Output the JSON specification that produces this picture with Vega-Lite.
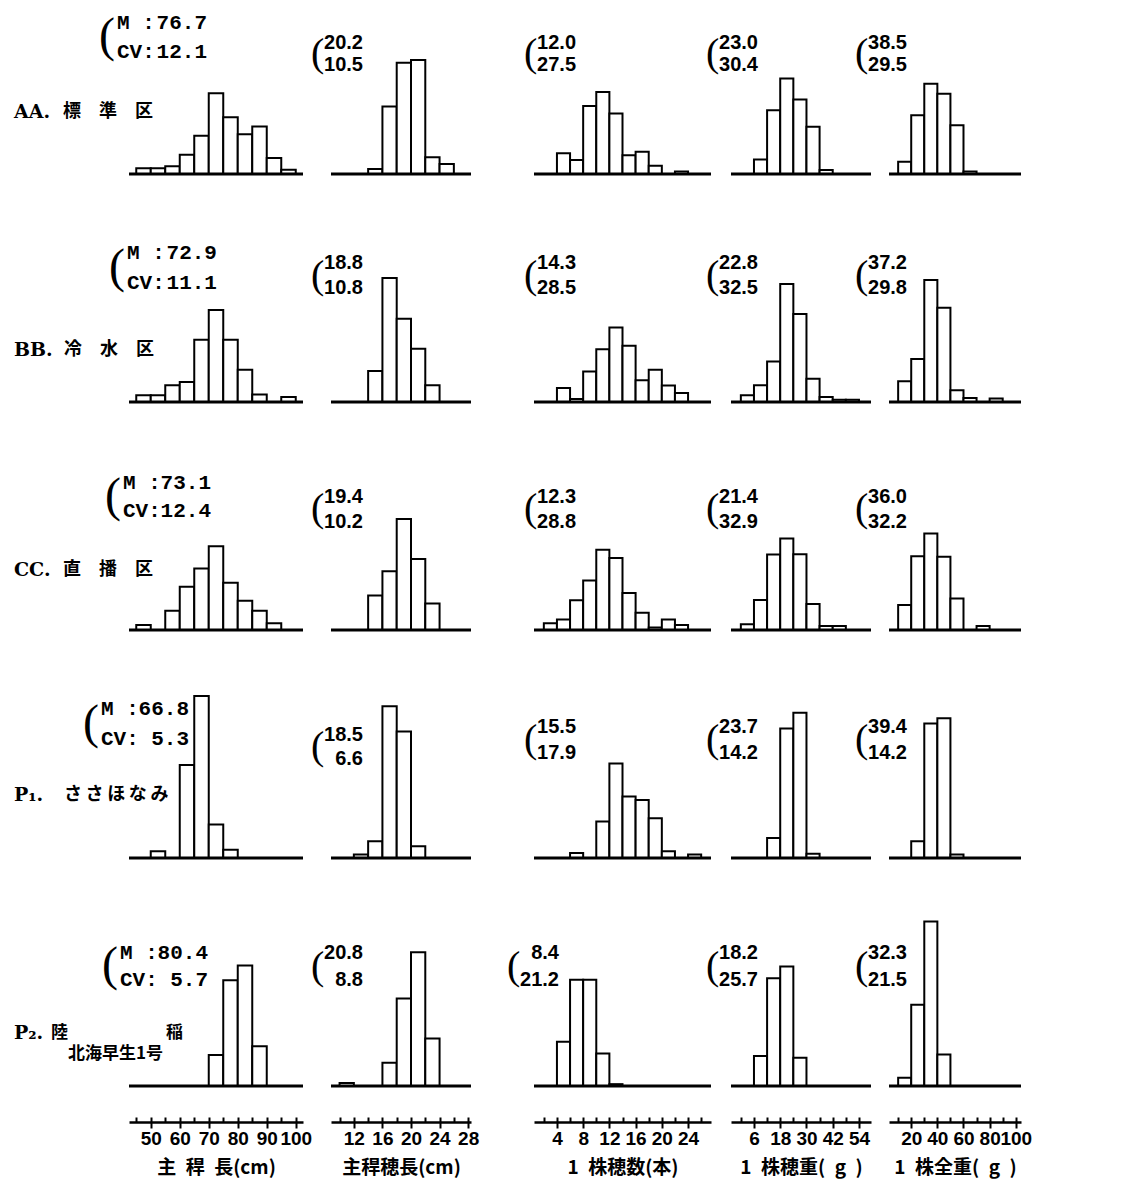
{
"$schema": "https://vega.github.io/schema/vega-lite/v6.json",
"background": "white",
"padding": {"left": 13, "top": 4, "right": 10, "bottom": 5},
"columns": 5,
"spacing": {"row": 58, "column": 0},
"align": "each",
"bounds": "flush",
"config": {
  "view": {"stroke": null, "fill": "white"},
  "text": {"color": "black"},
  "rule": {"color": "black", "strokeWidth": 3},
  "axis": {"grid": false, "domainColor": "black", "tickColor": "black", "labelColor": "black", "titleColor": "black", "labelFont": "Liberation Sans", "labelFontSize": 19, "labelFontWeight": "bold", "titleFont": "Noto Sans CJK JP", "titleFontSize": 19, "titleFontWeight": "bold", "tickWidth": 2, "domainWidth": 2.5, "labelFlush": false, "labelOverlap": false, "labelBound": false, "labelPadding": 1, "titlePadding": 10},
  "style": {
    "paren1": {"font": "Liberation Serif", "fontSize": 48, "align": "left", "baseline": "middle"},
    "paren": {"font": "Liberation Serif", "fontSize": 40, "align": "left", "baseline": "middle"},
    "mono": {"font": "Liberation Mono", "fontSize": 21, "fontWeight": "bold", "baseline": "middle"},
    "num": {"font": "Liberation Sans", "fontSize": 20, "fontWeight": "bold", "align": "right", "baseline": "middle"},
    "lat": {"font": "DejaVu Serif", "fontSize": 19, "fontWeight": "bold", "align": "left", "baseline": "middle"},
    "cjk": {"font": "Noto Sans CJK JP", "fontSize": 18, "fontWeight": "bold", "align": "left", "baseline": "middle"}
  }
},
"datasets": {
  "stats": [
    {"g":"AA","v":"c1","m":76.7,"cv":12.1},{"g":"AA","v":"c2","m":20.2,"cv":10.5},{"g":"AA","v":"c3","m":12.0,"cv":27.5},{"g":"AA","v":"c4","m":23.0,"cv":30.4},{"g":"AA","v":"c5","m":38.5,"cv":29.5},
    {"g":"BB","v":"c1","m":72.9,"cv":11.1},{"g":"BB","v":"c2","m":18.8,"cv":10.8},{"g":"BB","v":"c3","m":14.3,"cv":28.5},{"g":"BB","v":"c4","m":22.8,"cv":32.5},{"g":"BB","v":"c5","m":37.2,"cv":29.8},
    {"g":"CC","v":"c1","m":73.1,"cv":12.4},{"g":"CC","v":"c2","m":19.4,"cv":10.2},{"g":"CC","v":"c3","m":12.3,"cv":28.8},{"g":"CC","v":"c4","m":21.4,"cv":32.9},{"g":"CC","v":"c5","m":36.0,"cv":32.2},
    {"g":"P1","v":"c1","m":66.8,"cv":5.3},{"g":"P1","v":"c2","m":18.5,"cv":6.6},{"g":"P1","v":"c3","m":15.5,"cv":17.9},{"g":"P1","v":"c4","m":23.7,"cv":14.2},{"g":"P1","v":"c5","m":39.4,"cv":14.2},
    {"g":"P2","v":"c1","m":80.4,"cv":5.7},{"g":"P2","v":"c2","m":20.8,"cv":8.8},{"g":"P2","v":"c3","m":8.4,"cv":21.2},{"g":"P2","v":"c4","m":18.2,"cv":25.7},{"g":"P2","v":"c5","m":32.3,"cv":21.5}
  ],
  "bars": [
    {"g":"AA","v":"c1","x0":45,"x1":50,"f":1.9},{"g":"AA","v":"c1","x0":50,"x1":55,"f":1.9},{"g":"AA","v":"c1","x0":55,"x1":60,"f":2.5},{"g":"AA","v":"c1","x0":60,"x1":65,"f":6.2},{"g":"AA","v":"c1","x0":65,"x1":70,"f":12.4},{"g":"AA","v":"c1","x0":70,"x1":75,"f":26.1},{"g":"AA","v":"c1","x0":75,"x1":80,"f":18.4},{"g":"AA","v":"c1","x0":80,"x1":85,"f":12.9},{"g":"AA","v":"c1","x0":85,"x1":90,"f":15.4},{"g":"AA","v":"c1","x0":90,"x1":95,"f":5.2},{"g":"AA","v":"c1","x0":95,"x1":100,"f":1.4},
    {"g":"AA","v":"c2","x0":14,"x1":16,"f":1.6},{"g":"AA","v":"c2","x0":16,"x1":18,"f":21.8},{"g":"AA","v":"c2","x0":18,"x1":20,"f":36.0},{"g":"AA","v":"c2","x0":20,"x1":22,"f":36.9},{"g":"AA","v":"c2","x0":22,"x1":24,"f":5.4},{"g":"AA","v":"c2","x0":24,"x1":26,"f":3.2},
    {"g":"AA","v":"c3","x0":4,"x1":6,"f":6.7},{"g":"AA","v":"c3","x0":6,"x1":8,"f":4.5},{"g":"AA","v":"c3","x0":8,"x1":10,"f":22.0},{"g":"AA","v":"c3","x0":10,"x1":12,"f":26.5},{"g":"AA","v":"c3","x0":12,"x1":14,"f":19.6},{"g":"AA","v":"c3","x0":14,"x1":16,"f":6.1},{"g":"AA","v":"c3","x0":16,"x1":18,"f":7.2},{"g":"AA","v":"c3","x0":18,"x1":20,"f":2.7},{"g":"AA","v":"c3","x0":22,"x1":24,"f":0.8},
    {"g":"AA","v":"c4","x0":6,"x1":12,"f":4.7},{"g":"AA","v":"c4","x0":12,"x1":18,"f":20.6},{"g":"AA","v":"c4","x0":18,"x1":24,"f":30.9},{"g":"AA","v":"c4","x0":24,"x1":30,"f":24.1},{"g":"AA","v":"c4","x0":30,"x1":36,"f":15.3},{"g":"AA","v":"c4","x0":36,"x1":42,"f":1.3},
    {"g":"AA","v":"c5","x0":10,"x1":20,"f":4.0},{"g":"AA","v":"c5","x0":20,"x1":30,"f":19.0},{"g":"AA","v":"c5","x0":30,"x1":40,"f":29.2},{"g":"AA","v":"c5","x0":40,"x1":50,"f":26.0},{"g":"AA","v":"c5","x0":50,"x1":60,"f":15.8},{"g":"AA","v":"c5","x0":60,"x1":70,"f":0.8},
    {"g":"BB","v":"c1","x0":45,"x1":50,"f":2.2},{"g":"BB","v":"c1","x0":50,"x1":55,"f":2.2},{"g":"BB","v":"c1","x0":55,"x1":60,"f":5.4},{"g":"BB","v":"c1","x0":60,"x1":65,"f":6.5},{"g":"BB","v":"c1","x0":65,"x1":70,"f":20.1},{"g":"BB","v":"c1","x0":70,"x1":75,"f":29.8},{"g":"BB","v":"c1","x0":75,"x1":80,"f":20.1},{"g":"BB","v":"c1","x0":80,"x1":85,"f":10.4},{"g":"BB","v":"c1","x0":85,"x1":90,"f":2.4},{"g":"BB","v":"c1","x0":95,"x1":100,"f":1.6},
    {"g":"BB","v":"c2","x0":14,"x1":16,"f":10.0},{"g":"BB","v":"c2","x0":16,"x1":18,"f":40.1},{"g":"BB","v":"c2","x0":18,"x1":20,"f":26.9},{"g":"BB","v":"c2","x0":20,"x1":22,"f":17.2},{"g":"BB","v":"c2","x0":22,"x1":24,"f":5.4},
    {"g":"BB","v":"c3","x0":4,"x1":6,"f":4.5},{"g":"BB","v":"c3","x0":6,"x1":8,"f":1.0},{"g":"BB","v":"c3","x0":8,"x1":10,"f":9.9},{"g":"BB","v":"c3","x0":10,"x1":12,"f":17.1},{"g":"BB","v":"c3","x0":12,"x1":14,"f":24.1},{"g":"BB","v":"c3","x0":14,"x1":16,"f":18.2},{"g":"BB","v":"c3","x0":16,"x1":18,"f":7.0},{"g":"BB","v":"c3","x0":18,"x1":20,"f":10.4},{"g":"BB","v":"c3","x0":20,"x1":22,"f":5.3},{"g":"BB","v":"c3","x0":22,"x1":24,"f":2.9},
    {"g":"BB","v":"c4","x0":0,"x1":6,"f":2.2},{"g":"BB","v":"c4","x0":6,"x1":12,"f":5.4},{"g":"BB","v":"c4","x0":12,"x1":18,"f":13.1},{"g":"BB","v":"c4","x0":18,"x1":24,"f":38.2},{"g":"BB","v":"c4","x0":24,"x1":30,"f":28.5},{"g":"BB","v":"c4","x0":30,"x1":36,"f":7.5},{"g":"BB","v":"c4","x0":36,"x1":42,"f":1.6},{"g":"BB","v":"c4","x0":42,"x1":48,"f":0.7},{"g":"BB","v":"c4","x0":48,"x1":54,"f":0.7},
    {"g":"BB","v":"c5","x0":10,"x1":20,"f":6.7},{"g":"BB","v":"c5","x0":20,"x1":30,"f":13.9},{"g":"BB","v":"c5","x0":30,"x1":40,"f":39.5},{"g":"BB","v":"c5","x0":40,"x1":50,"f":30.5},{"g":"BB","v":"c5","x0":50,"x1":60,"f":3.8},{"g":"BB","v":"c5","x0":60,"x1":70,"f":1.3},{"g":"BB","v":"c5","x0":80,"x1":90,"f":1.1},
    {"g":"CC","v":"c1","x0":45,"x1":50,"f":1.6},{"g":"CC","v":"c1","x0":55,"x1":60,"f":6.2},{"g":"CC","v":"c1","x0":60,"x1":65,"f":14.0},{"g":"CC","v":"c1","x0":65,"x1":70,"f":19.9},{"g":"CC","v":"c1","x0":70,"x1":75,"f":27.1},{"g":"CC","v":"c1","x0":75,"x1":80,"f":15.3},{"g":"CC","v":"c1","x0":80,"x1":85,"f":9.5},{"g":"CC","v":"c1","x0":85,"x1":90,"f":6.2},{"g":"CC","v":"c1","x0":90,"x1":95,"f":2.2},
    {"g":"CC","v":"c2","x0":14,"x1":16,"f":11.2},{"g":"CC","v":"c2","x0":16,"x1":18,"f":19.0},{"g":"CC","v":"c2","x0":18,"x1":20,"f":35.9},{"g":"CC","v":"c2","x0":20,"x1":22,"f":23.0},{"g":"CC","v":"c2","x0":22,"x1":24,"f":8.6},
    {"g":"CC","v":"c3","x0":2,"x1":4,"f":2.2},{"g":"CC","v":"c3","x0":4,"x1":6,"f":3.4},{"g":"CC","v":"c3","x0":6,"x1":8,"f":9.6},{"g":"CC","v":"c3","x0":8,"x1":10,"f":16.0},{"g":"CC","v":"c3","x0":10,"x1":12,"f":26.0},{"g":"CC","v":"c3","x0":12,"x1":14,"f":23.3},{"g":"CC","v":"c3","x0":14,"x1":16,"f":12.0},{"g":"CC","v":"c3","x0":16,"x1":18,"f":5.6},{"g":"CC","v":"c3","x0":18,"x1":20,"f":0.8},{"g":"CC","v":"c3","x0":20,"x1":22,"f":3.4},{"g":"CC","v":"c3","x0":22,"x1":24,"f":1.6},
    {"g":"CC","v":"c4","x0":0,"x1":6,"f":1.9},{"g":"CC","v":"c4","x0":6,"x1":12,"f":9.7},{"g":"CC","v":"c4","x0":12,"x1":18,"f":24.4},{"g":"CC","v":"c4","x0":18,"x1":24,"f":29.6},{"g":"CC","v":"c4","x0":24,"x1":30,"f":24.5},{"g":"CC","v":"c4","x0":30,"x1":36,"f":8.4},{"g":"CC","v":"c4","x0":36,"x1":42,"f":1.3},{"g":"CC","v":"c4","x0":42,"x1":48,"f":1.3},
    {"g":"CC","v":"c5","x0":10,"x1":20,"f":8.1},{"g":"CC","v":"c5","x0":20,"x1":30,"f":23.9},{"g":"CC","v":"c5","x0":30,"x1":40,"f":31.2},{"g":"CC","v":"c5","x0":40,"x1":50,"f":23.7},{"g":"CC","v":"c5","x0":50,"x1":60,"f":10.2},{"g":"CC","v":"c5","x0":70,"x1":80,"f":1.3},
    {"g":"P1","v":"c1","x0":50,"x1":55,"f":2.2},{"g":"P1","v":"c1","x0":60,"x1":65,"f":30.1},{"g":"P1","v":"c1","x0":65,"x1":70,"f":52.4},{"g":"P1","v":"c1","x0":70,"x1":75,"f":10.8},{"g":"P1","v":"c1","x0":75,"x1":80,"f":2.7},
    {"g":"P1","v":"c2","x0":12,"x1":14,"f":1.1},{"g":"P1","v":"c2","x0":14,"x1":16,"f":5.4},{"g":"P1","v":"c2","x0":16,"x1":18,"f":49.1},{"g":"P1","v":"c2","x0":18,"x1":20,"f":40.9},{"g":"P1","v":"c2","x0":20,"x1":22,"f":3.8},
    {"g":"P1","v":"c3","x0":6,"x1":8,"f":1.6},{"g":"P1","v":"c3","x0":10,"x1":12,"f":11.8},{"g":"P1","v":"c3","x0":12,"x1":14,"f":30.6},{"g":"P1","v":"c3","x0":14,"x1":16,"f":19.9},{"g":"P1","v":"c3","x0":16,"x1":18,"f":18.8},{"g":"P1","v":"c3","x0":18,"x1":20,"f":12.9},{"g":"P1","v":"c3","x0":20,"x1":22,"f":2.2},{"g":"P1","v":"c3","x0":24,"x1":26,"f":1.1},
    {"g":"P1","v":"c4","x0":12,"x1":18,"f":6.5},{"g":"P1","v":"c4","x0":18,"x1":24,"f":41.9},{"g":"P1","v":"c4","x0":24,"x1":30,"f":47.0},{"g":"P1","v":"c4","x0":30,"x1":36,"f":1.4},
    {"g":"P1","v":"c5","x0":20,"x1":30,"f":5.4},{"g":"P1","v":"c5","x0":30,"x1":40,"f":43.5},{"g":"P1","v":"c5","x0":40,"x1":50,"f":45.2},{"g":"P1","v":"c5","x0":50,"x1":60,"f":1.1},
    {"g":"P2","v":"c1","x0":70,"x1":75,"f":10.0},{"g":"P2","v":"c1","x0":75,"x1":80,"f":34.2},{"g":"P2","v":"c1","x0":80,"x1":85,"f":39.0},{"g":"P2","v":"c1","x0":85,"x1":90,"f":12.9},
    {"g":"P2","v":"c2","x0":10,"x1":12,"f":1.0},{"g":"P2","v":"c2","x0":16,"x1":18,"f":7.5},{"g":"P2","v":"c2","x0":18,"x1":20,"f":28.3},{"g":"P2","v":"c2","x0":20,"x1":22,"f":43.3},{"g":"P2","v":"c2","x0":22,"x1":24,"f":15.4},
    {"g":"P2","v":"c3","x0":4,"x1":6,"f":14.3},{"g":"P2","v":"c3","x0":6,"x1":8,"f":34.4},{"g":"P2","v":"c3","x0":8,"x1":10,"f":34.4},{"g":"P2","v":"c3","x0":10,"x1":12,"f":10.5},{"g":"P2","v":"c3","x0":12,"x1":14,"f":0.6},
    {"g":"P2","v":"c4","x0":6,"x1":12,"f":9.7},{"g":"P2","v":"c4","x0":12,"x1":18,"f":34.9},{"g":"P2","v":"c4","x0":18,"x1":24,"f":38.7},{"g":"P2","v":"c4","x0":24,"x1":30,"f":9.1},
    {"g":"P2","v":"c5","x0":10,"x1":20,"f":2.7},{"g":"P2","v":"c5","x0":20,"x1":30,"f":26.3},{"g":"P2","v":"c5","x0":30,"x1":40,"f":53.2},{"g":"P2","v":"c5","x0":40,"x1":50,"f":10.2}
  ]
},
"concat": [
{"width":202,"height":170,"data":{"name":"stats"},"transform":[{"filter":"datum.g==='AA'&&datum.v==='c1'"}],"layer":[
 {"data":{"name":"bars"},"transform":[{"filter":"datum.g==='AA'&&datum.v==='c1'"}],"mark":{"type":"rect","fill":"white","stroke":"black","strokeWidth":2},"encoding":{"x":{"field":"x0","type":"quantitative","scale":{"domain":[42.5,102.5],"range":[0,174],"nice":false,"zero":false},"axis":null},"x2":{"field":"x1"},"y":{"field":"f","type":"quantitative","scale":{"domain":[0,55],"nice":false},"axis":null},"y2":{"datum":0}}},
 {"mark":{"type":"rule"},"encoding":{"x":{"datum":42.5,"axis":null},"x2":{"datum":102.5},"y":{"datum":0,"axis":null}}},
 {"mark":{"type":"text","style":"paren1","text":"("},"encoding":{"x":{"datum":32.15,"axis":null},"y":{"datum":44.2,"axis":null}}},
 {"mark":{"type":"text","style":"mono","align":"left","text":"M :"},"encoding":{"x":{"datum":38.36,"axis":null},"y":{"datum":48.9,"axis":null}}},
 {"mark":{"type":"text","style":"mono","align":"left","text":"CV:"},"encoding":{"x":{"datum":38.36,"axis":null},"y":{"datum":39.5,"axis":null}}},
 {"mark":{"type":"text","style":"mono","align":"right"},"encoding":{"x":{"datum":69.4,"axis":null},"y":{"datum":48.9,"axis":null},"text":{"field":"m","type":"quantitative","format":".1f"}}},
 {"mark":{"type":"text","style":"mono","align":"right"},"encoding":{"x":{"datum":69.4,"axis":null},"y":{"datum":39.5,"axis":null},"text":{"field":"cv","type":"quantitative","format":".1f"}}},
 {"mark":{"type":"text","style":"lat","text":"AA."},"encoding":{"x":{"datum":2.84,"axis":null},"y":{"datum":20.1,"axis":null}}},
 {"mark":{"type":"text","style":"cjk","text":"標　準　区"},"encoding":{"x":{"datum":19.74,"axis":null},"y":{"datum":20.1,"axis":null}}}
]},
{"width":203,"height":170,"data":{"name":"stats"},"transform":[{"filter":"datum.g==='AA'&&datum.v==='c2'"}],"layer":[
 {"data":{"name":"bars"},"transform":[{"filter":"datum.g==='AA'&&datum.v==='c2'"}],"mark":{"type":"rect","fill":"white","stroke":"black","strokeWidth":2},"encoding":{"x":{"field":"x0","type":"quantitative","scale":{"domain":[8.8,28.4],"range":[0,140],"nice":false,"zero":false},"axis":null},"x2":{"field":"x1"},"y":{"field":"f","type":"quantitative","scale":{"domain":[0,55],"nice":false},"axis":null},"y2":{"datum":0}}},
 {"mark":{"type":"rule"},"encoding":{"x":{"datum":8.8,"axis":null},"x2":{"datum":28.4},"y":{"datum":0,"axis":null}}},
 {"mark":{"type":"text","style":"paren","text":"("},"encoding":{"x":{"datum":6.0,"axis":null},"y":{"datum":38.8,"axis":null}}},
 {"mark":{"type":"text","style":"num"},"encoding":{"x":{"datum":13.28,"axis":null},"y":{"datum":42.35,"axis":null},"text":{"field":"m","type":"quantitative","format":".1f"}}},
 {"mark":{"type":"text","style":"num"},"encoding":{"x":{"datum":13.28,"axis":null},"y":{"datum":35.25,"axis":null},"text":{"field":"cv","type":"quantitative","format":".1f"}}}
]},
{"width":197,"height":170,"data":{"name":"stats"},"transform":[{"filter":"datum.g==='AA'&&datum.v==='c3'"}],"layer":[
 {"data":{"name":"bars"},"transform":[{"filter":"datum.g==='AA'&&datum.v==='c3'"}],"mark":{"type":"rect","fill":"white","stroke":"black","strokeWidth":2},"encoding":{"x":{"field":"x0","type":"quantitative","scale":{"domain":[0.5,27.5],"range":[0,177],"nice":false,"zero":false},"axis":null},"x2":{"field":"x1"},"y":{"field":"f","type":"quantitative","scale":{"domain":[0,55],"nice":false},"axis":null},"y2":{"datum":0}}},
 {"mark":{"type":"rule"},"encoding":{"x":{"datum":0.5,"axis":null},"x2":{"datum":27.5},"y":{"datum":0,"axis":null}}},
 {"mark":{"type":"text","style":"paren","text":"("},"encoding":{"x":{"datum":-1.03,"axis":null},"y":{"datum":38.8,"axis":null}}},
 {"mark":{"type":"text","style":"num"},"encoding":{"x":{"datum":6.91,"axis":null},"y":{"datum":42.35,"axis":null},"text":{"field":"m","type":"quantitative","format":".1f"}}},
 {"mark":{"type":"text","style":"num"},"encoding":{"x":{"datum":6.91,"axis":null},"y":{"datum":35.25,"axis":null},"text":{"field":"cv","type":"quantitative","format":".1f"}}}
]},
{"width":158,"height":170,"data":{"name":"stats"},"transform":[{"filter":"datum.g==='AA'&&datum.v==='c4'"}],"layer":[
 {"data":{"name":"bars"},"transform":[{"filter":"datum.g==='AA'&&datum.v==='c4'"}],"mark":{"type":"rect","fill":"white","stroke":"black","strokeWidth":2},"encoding":{"x":{"field":"x0","type":"quantitative","scale":{"domain":[-4.5,59.5],"range":[0,140],"nice":false,"zero":false},"axis":null},"x2":{"field":"x1"},"y":{"field":"f","type":"quantitative","scale":{"domain":[0,55],"nice":false},"axis":null},"y2":{"datum":0}}},
 {"mark":{"type":"rule"},"encoding":{"x":{"datum":-4.5,"axis":null},"x2":{"datum":59.5},"y":{"datum":0,"axis":null}}},
 {"mark":{"type":"text","style":"paren","text":"("},"encoding":{"x":{"datum":-15.93,"axis":null},"y":{"datum":38.8,"axis":null}}},
 {"mark":{"type":"text","style":"num"},"encoding":{"x":{"datum":7.84,"axis":null},"y":{"datum":42.35,"axis":null},"text":{"field":"m","type":"quantitative","format":".1f"}}},
 {"mark":{"type":"text","style":"num"},"encoding":{"x":{"datum":7.84,"axis":null},"y":{"datum":35.25,"axis":null},"text":{"field":"cv","type":"quantitative","format":".1f"}}}
]},
{"width":140,"height":170,"data":{"name":"stats"},"transform":[{"filter":"datum.g==='AA'&&datum.v==='c5'"}],"layer":[
 {"data":{"name":"bars"},"transform":[{"filter":"datum.g==='AA'&&datum.v==='c5'"}],"mark":{"type":"rect","fill":"white","stroke":"black","strokeWidth":2},"encoding":{"x":{"field":"x0","type":"quantitative","scale":{"domain":[3,104],"range":[0,132],"nice":false,"zero":false},"axis":null},"x2":{"field":"x1"},"y":{"field":"f","type":"quantitative","scale":{"domain":[0,55],"nice":false},"axis":null},"y2":{"datum":0}}},
 {"mark":{"type":"rule"},"encoding":{"x":{"datum":3,"axis":null},"x2":{"datum":104},"y":{"datum":0,"axis":null}}},
 {"mark":{"type":"text","style":"paren","text":"("},"encoding":{"x":{"datum":-23.02,"axis":null},"y":{"datum":38.8,"axis":null}}},
 {"mark":{"type":"text","style":"num"},"encoding":{"x":{"datum":16.77,"axis":null},"y":{"datum":42.35,"axis":null},"text":{"field":"m","type":"quantitative","format":".1f"}}},
 {"mark":{"type":"text","style":"num"},"encoding":{"x":{"datum":16.77,"axis":null},"y":{"datum":35.25,"axis":null},"text":{"field":"cv","type":"quantitative","format":".1f"}}}
]},

{"width":202,"height":170,"data":{"name":"stats"},"transform":[{"filter":"datum.g==='BB'&&datum.v==='c1'"}],"layer":[
 {"data":{"name":"bars"},"transform":[{"filter":"datum.g==='BB'&&datum.v==='c1'"}],"mark":{"type":"rect","fill":"white","stroke":"black","strokeWidth":2},"encoding":{"x":{"field":"x0","type":"quantitative","scale":{"domain":[42.5,102.5],"range":[0,174],"nice":false,"zero":false},"axis":null},"x2":{"field":"x1"},"y":{"field":"f","type":"quantitative","scale":{"domain":[0,55],"nice":false},"axis":null},"y2":{"datum":0}}},
 {"mark":{"type":"rule"},"encoding":{"x":{"datum":42.5,"axis":null},"x2":{"datum":102.5},"y":{"datum":0,"axis":null}}},
 {"mark":{"type":"text","style":"paren1","text":"("},"encoding":{"x":{"datum":35.6,"axis":null},"y":{"datum":43.4,"axis":null}}},
 {"mark":{"type":"text","style":"mono","align":"left","text":"M :"},"encoding":{"x":{"datum":41.81,"axis":null},"y":{"datum":48.2,"axis":null}}},
 {"mark":{"type":"text","style":"mono","align":"left","text":"CV:"},"encoding":{"x":{"datum":41.81,"axis":null},"y":{"datum":38.5,"axis":null}}},
 {"mark":{"type":"text","style":"mono","align":"right"},"encoding":{"x":{"datum":72.84,"axis":null},"y":{"datum":48.2,"axis":null},"text":{"field":"m","type":"quantitative","format":".1f"}}},
 {"mark":{"type":"text","style":"mono","align":"right"},"encoding":{"x":{"datum":72.84,"axis":null},"y":{"datum":38.5,"axis":null},"text":{"field":"cv","type":"quantitative","format":".1f"}}},
 {"mark":{"type":"text","style":"lat","text":"BB."},"encoding":{"x":{"datum":2.84,"axis":null},"y":{"datum":16.8,"axis":null}}},
 {"mark":{"type":"text","style":"cjk","text":"冷　水　区"},"encoding":{"x":{"datum":20.09,"axis":null},"y":{"datum":16.8,"axis":null}}}
]},
{"width":203,"height":170,"data":{"name":"stats"},"transform":[{"filter":"datum.g==='BB'&&datum.v==='c2'"}],"layer":[
 {"data":{"name":"bars"},"transform":[{"filter":"datum.g==='BB'&&datum.v==='c2'"}],"mark":{"type":"rect","fill":"white","stroke":"black","strokeWidth":2},"encoding":{"x":{"field":"x0","type":"quantitative","scale":{"domain":[8.8,28.4],"range":[0,140],"nice":false,"zero":false},"axis":null},"x2":{"field":"x1"},"y":{"field":"f","type":"quantitative","scale":{"domain":[0,55],"nice":false},"axis":null},"y2":{"datum":0}}},
 {"mark":{"type":"rule"},"encoding":{"x":{"datum":8.8,"axis":null},"x2":{"datum":28.4},"y":{"datum":0,"axis":null}}},
 {"mark":{"type":"text","style":"paren","text":"("},"encoding":{"x":{"datum":6.0,"axis":null},"y":{"datum":40.9,"axis":null}}},
 {"mark":{"type":"text","style":"num"},"encoding":{"x":{"datum":13.28,"axis":null},"y":{"datum":44.95,"axis":null},"text":{"field":"m","type":"quantitative","format":".1f"}}},
 {"mark":{"type":"text","style":"num"},"encoding":{"x":{"datum":13.28,"axis":null},"y":{"datum":36.85,"axis":null},"text":{"field":"cv","type":"quantitative","format":".1f"}}}
]},
{"width":197,"height":170,"data":{"name":"stats"},"transform":[{"filter":"datum.g==='BB'&&datum.v==='c3'"}],"layer":[
 {"data":{"name":"bars"},"transform":[{"filter":"datum.g==='BB'&&datum.v==='c3'"}],"mark":{"type":"rect","fill":"white","stroke":"black","strokeWidth":2},"encoding":{"x":{"field":"x0","type":"quantitative","scale":{"domain":[0.5,27.5],"range":[0,177],"nice":false,"zero":false},"axis":null},"x2":{"field":"x1"},"y":{"field":"f","type":"quantitative","scale":{"domain":[0,55],"nice":false},"axis":null},"y2":{"datum":0}}},
 {"mark":{"type":"rule"},"encoding":{"x":{"datum":0.5,"axis":null},"x2":{"datum":27.5},"y":{"datum":0,"axis":null}}},
 {"mark":{"type":"text","style":"paren","text":"("},"encoding":{"x":{"datum":-1.03,"axis":null},"y":{"datum":40.9,"axis":null}}},
 {"mark":{"type":"text","style":"num"},"encoding":{"x":{"datum":6.91,"axis":null},"y":{"datum":44.95,"axis":null},"text":{"field":"m","type":"quantitative","format":".1f"}}},
 {"mark":{"type":"text","style":"num"},"encoding":{"x":{"datum":6.91,"axis":null},"y":{"datum":36.85,"axis":null},"text":{"field":"cv","type":"quantitative","format":".1f"}}}
]},
{"width":158,"height":170,"data":{"name":"stats"},"transform":[{"filter":"datum.g==='BB'&&datum.v==='c4'"}],"layer":[
 {"data":{"name":"bars"},"transform":[{"filter":"datum.g==='BB'&&datum.v==='c4'"}],"mark":{"type":"rect","fill":"white","stroke":"black","strokeWidth":2},"encoding":{"x":{"field":"x0","type":"quantitative","scale":{"domain":[-4.5,59.5],"range":[0,140],"nice":false,"zero":false},"axis":null},"x2":{"field":"x1"},"y":{"field":"f","type":"quantitative","scale":{"domain":[0,55],"nice":false},"axis":null},"y2":{"datum":0}}},
 {"mark":{"type":"rule"},"encoding":{"x":{"datum":-4.5,"axis":null},"x2":{"datum":59.5},"y":{"datum":0,"axis":null}}},
 {"mark":{"type":"text","style":"paren","text":"("},"encoding":{"x":{"datum":-15.93,"axis":null},"y":{"datum":40.9,"axis":null}}},
 {"mark":{"type":"text","style":"num"},"encoding":{"x":{"datum":7.84,"axis":null},"y":{"datum":44.95,"axis":null},"text":{"field":"m","type":"quantitative","format":".1f"}}},
 {"mark":{"type":"text","style":"num"},"encoding":{"x":{"datum":7.84,"axis":null},"y":{"datum":36.85,"axis":null},"text":{"field":"cv","type":"quantitative","format":".1f"}}}
]},
{"width":140,"height":170,"data":{"name":"stats"},"transform":[{"filter":"datum.g==='BB'&&datum.v==='c5'"}],"layer":[
 {"data":{"name":"bars"},"transform":[{"filter":"datum.g==='BB'&&datum.v==='c5'"}],"mark":{"type":"rect","fill":"white","stroke":"black","strokeWidth":2},"encoding":{"x":{"field":"x0","type":"quantitative","scale":{"domain":[3,104],"range":[0,132],"nice":false,"zero":false},"axis":null},"x2":{"field":"x1"},"y":{"field":"f","type":"quantitative","scale":{"domain":[0,55],"nice":false},"axis":null},"y2":{"datum":0}}},
 {"mark":{"type":"rule"},"encoding":{"x":{"datum":3,"axis":null},"x2":{"datum":104},"y":{"datum":0,"axis":null}}},
 {"mark":{"type":"text","style":"paren","text":"("},"encoding":{"x":{"datum":-23.02,"axis":null},"y":{"datum":40.9,"axis":null}}},
 {"mark":{"type":"text","style":"num"},"encoding":{"x":{"datum":16.77,"axis":null},"y":{"datum":44.95,"axis":null},"text":{"field":"m","type":"quantitative","format":".1f"}}},
 {"mark":{"type":"text","style":"num"},"encoding":{"x":{"datum":16.77,"axis":null},"y":{"datum":36.85,"axis":null},"text":{"field":"cv","type":"quantitative","format":".1f"}}}
]},

{"width":202,"height":170,"data":{"name":"stats"},"transform":[{"filter":"datum.g==='CC'&&datum.v==='c1'"}],"layer":[
 {"data":{"name":"bars"},"transform":[{"filter":"datum.g==='CC'&&datum.v==='c1'"}],"mark":{"type":"rect","fill":"white","stroke":"black","strokeWidth":2},"encoding":{"x":{"field":"x0","type":"quantitative","scale":{"domain":[42.5,102.5],"range":[0,174],"nice":false,"zero":false},"axis":null},"x2":{"field":"x1"},"y":{"field":"f","type":"quantitative","scale":{"domain":[0,55],"nice":false},"axis":null},"y2":{"datum":0}}},
 {"mark":{"type":"rule"},"encoding":{"x":{"datum":42.5,"axis":null},"x2":{"datum":102.5},"y":{"datum":0,"axis":null}}},
 {"mark":{"type":"text","style":"paren1","text":"("},"encoding":{"x":{"datum":34.22,"axis":null},"y":{"datum":43.1,"axis":null}}},
 {"mark":{"type":"text","style":"mono","align":"left","text":"M :"},"encoding":{"x":{"datum":40.43,"axis":null},"y":{"datum":47.6,"axis":null}}},
 {"mark":{"type":"text","style":"mono","align":"left","text":"CV:"},"encoding":{"x":{"datum":40.43,"axis":null},"y":{"datum":38.5,"axis":null}}},
 {"mark":{"type":"text","style":"mono","align":"right"},"encoding":{"x":{"datum":70.78,"axis":null},"y":{"datum":47.6,"axis":null},"text":{"field":"m","type":"quantitative","format":".1f"}}},
 {"mark":{"type":"text","style":"mono","align":"right"},"encoding":{"x":{"datum":70.78,"axis":null},"y":{"datum":38.5,"axis":null},"text":{"field":"cv","type":"quantitative","format":".1f"}}},
 {"mark":{"type":"text","style":"lat","text":"CC."},"encoding":{"x":{"datum":2.84,"axis":null},"y":{"datum":19.4,"axis":null}}},
 {"mark":{"type":"text","style":"cjk","text":"直　播　区"},"encoding":{"x":{"datum":19.74,"axis":null},"y":{"datum":19.4,"axis":null}}}
]},
{"width":203,"height":170,"data":{"name":"stats"},"transform":[{"filter":"datum.g==='CC'&&datum.v==='c2'"}],"layer":[
 {"data":{"name":"bars"},"transform":[{"filter":"datum.g==='CC'&&datum.v==='c2'"}],"mark":{"type":"rect","fill":"white","stroke":"black","strokeWidth":2},"encoding":{"x":{"field":"x0","type":"quantitative","scale":{"domain":[8.8,28.4],"range":[0,140],"nice":false,"zero":false},"axis":null},"x2":{"field":"x1"},"y":{"field":"f","type":"quantitative","scale":{"domain":[0,55],"nice":false},"axis":null},"y2":{"datum":0}}},
 {"mark":{"type":"rule"},"encoding":{"x":{"datum":8.8,"axis":null},"x2":{"datum":28.4},"y":{"datum":0,"axis":null}}},
 {"mark":{"type":"text","style":"paren","text":"("},"encoding":{"x":{"datum":6.0,"axis":null},"y":{"datum":39.0,"axis":null}}},
 {"mark":{"type":"text","style":"num"},"encoding":{"x":{"datum":13.28,"axis":null},"y":{"datum":43.05,"axis":null},"text":{"field":"m","type":"quantitative","format":".1f"}}},
 {"mark":{"type":"text","style":"num"},"encoding":{"x":{"datum":13.28,"axis":null},"y":{"datum":34.95,"axis":null},"text":{"field":"cv","type":"quantitative","format":".1f"}}}
]},
{"width":197,"height":170,"data":{"name":"stats"},"transform":[{"filter":"datum.g==='CC'&&datum.v==='c3'"}],"layer":[
 {"data":{"name":"bars"},"transform":[{"filter":"datum.g==='CC'&&datum.v==='c3'"}],"mark":{"type":"rect","fill":"white","stroke":"black","strokeWidth":2},"encoding":{"x":{"field":"x0","type":"quantitative","scale":{"domain":[0.5,27.5],"range":[0,177],"nice":false,"zero":false},"axis":null},"x2":{"field":"x1"},"y":{"field":"f","type":"quantitative","scale":{"domain":[0,55],"nice":false},"axis":null},"y2":{"datum":0}}},
 {"mark":{"type":"rule"},"encoding":{"x":{"datum":0.5,"axis":null},"x2":{"datum":27.5},"y":{"datum":0,"axis":null}}},
 {"mark":{"type":"text","style":"paren","text":"("},"encoding":{"x":{"datum":-1.03,"axis":null},"y":{"datum":39.0,"axis":null}}},
 {"mark":{"type":"text","style":"num"},"encoding":{"x":{"datum":6.91,"axis":null},"y":{"datum":43.05,"axis":null},"text":{"field":"m","type":"quantitative","format":".1f"}}},
 {"mark":{"type":"text","style":"num"},"encoding":{"x":{"datum":6.91,"axis":null},"y":{"datum":34.95,"axis":null},"text":{"field":"cv","type":"quantitative","format":".1f"}}}
]},
{"width":158,"height":170,"data":{"name":"stats"},"transform":[{"filter":"datum.g==='CC'&&datum.v==='c4'"}],"layer":[
 {"data":{"name":"bars"},"transform":[{"filter":"datum.g==='CC'&&datum.v==='c4'"}],"mark":{"type":"rect","fill":"white","stroke":"black","strokeWidth":2},"encoding":{"x":{"field":"x0","type":"quantitative","scale":{"domain":[-4.5,59.5],"range":[0,140],"nice":false,"zero":false},"axis":null},"x2":{"field":"x1"},"y":{"field":"f","type":"quantitative","scale":{"domain":[0,55],"nice":false},"axis":null},"y2":{"datum":0}}},
 {"mark":{"type":"rule"},"encoding":{"x":{"datum":-4.5,"axis":null},"x2":{"datum":59.5},"y":{"datum":0,"axis":null}}},
 {"mark":{"type":"text","style":"paren","text":"("},"encoding":{"x":{"datum":-15.93,"axis":null},"y":{"datum":39.0,"axis":null}}},
 {"mark":{"type":"text","style":"num"},"encoding":{"x":{"datum":7.84,"axis":null},"y":{"datum":43.05,"axis":null},"text":{"field":"m","type":"quantitative","format":".1f"}}},
 {"mark":{"type":"text","style":"num"},"encoding":{"x":{"datum":7.84,"axis":null},"y":{"datum":34.95,"axis":null},"text":{"field":"cv","type":"quantitative","format":".1f"}}}
]},
{"width":140,"height":170,"data":{"name":"stats"},"transform":[{"filter":"datum.g==='CC'&&datum.v==='c5'"}],"layer":[
 {"data":{"name":"bars"},"transform":[{"filter":"datum.g==='CC'&&datum.v==='c5'"}],"mark":{"type":"rect","fill":"white","stroke":"black","strokeWidth":2},"encoding":{"x":{"field":"x0","type":"quantitative","scale":{"domain":[3,104],"range":[0,132],"nice":false,"zero":false},"axis":null},"x2":{"field":"x1"},"y":{"field":"f","type":"quantitative","scale":{"domain":[0,55],"nice":false},"axis":null},"y2":{"datum":0}}},
 {"mark":{"type":"rule"},"encoding":{"x":{"datum":3,"axis":null},"x2":{"datum":104},"y":{"datum":0,"axis":null}}},
 {"mark":{"type":"text","style":"paren","text":"("},"encoding":{"x":{"datum":-23.02,"axis":null},"y":{"datum":39.0,"axis":null}}},
 {"mark":{"type":"text","style":"num"},"encoding":{"x":{"datum":16.77,"axis":null},"y":{"datum":43.05,"axis":null},"text":{"field":"m","type":"quantitative","format":".1f"}}},
 {"mark":{"type":"text","style":"num"},"encoding":{"x":{"datum":16.77,"axis":null},"y":{"datum":34.95,"axis":null},"text":{"field":"cv","type":"quantitative","format":".1f"}}}
]},

{"width":202,"height":170,"data":{"name":"stats"},"transform":[{"filter":"datum.g==='P1'&&datum.v==='c1'"}],"layer":[
 {"data":{"name":"bars"},"transform":[{"filter":"datum.g==='P1'&&datum.v==='c1'"}],"mark":{"type":"rect","fill":"white","stroke":"black","strokeWidth":2},"encoding":{"x":{"field":"x0","type":"quantitative","scale":{"domain":[42.5,102.5],"range":[0,174],"nice":false,"zero":false},"axis":null},"x2":{"field":"x1"},"y":{"field":"f","type":"quantitative","scale":{"domain":[0,55],"nice":false},"axis":null},"y2":{"datum":0}}},
 {"mark":{"type":"rule"},"encoding":{"x":{"datum":42.5,"axis":null},"x2":{"datum":102.5},"y":{"datum":0,"axis":null}}},
 {"mark":{"type":"text","style":"paren1","text":"("},"encoding":{"x":{"datum":26.64,"axis":null},"y":{"datum":43.4,"axis":null}}},
 {"mark":{"type":"text","style":"mono","align":"left","text":"M :"},"encoding":{"x":{"datum":32.84,"axis":null},"y":{"datum":48.2,"axis":null}}},
 {"mark":{"type":"text","style":"mono","align":"left","text":"CV:"},"encoding":{"x":{"datum":32.84,"axis":null},"y":{"datum":38.5,"axis":null}}},
 {"mark":{"type":"text","style":"mono","align":"right"},"encoding":{"x":{"datum":63.19,"axis":null},"y":{"datum":48.2,"axis":null},"text":{"field":"m","type":"quantitative","format":".1f"}}},
 {"mark":{"type":"text","style":"mono","align":"right"},"encoding":{"x":{"datum":63.19,"axis":null},"y":{"datum":38.5,"axis":null},"text":{"field":"cv","type":"quantitative","format":".1f"}}},
 {"mark":{"type":"text","style":"lat","text":"P₁."},"encoding":{"x":{"datum":2.84,"axis":null},"y":{"datum":20.4,"axis":null}}},
 {"mark":{"type":"text","style":"cjk","text":"さ\u2009さ\u2009ほ\u2009な\u2009み"},"encoding":{"x":{"datum":20.09,"axis":null},"y":{"datum":20.4,"axis":null}}}
]},
{"width":203,"height":170,"data":{"name":"stats"},"transform":[{"filter":"datum.g==='P1'&&datum.v==='c2'"}],"layer":[
 {"data":{"name":"bars"},"transform":[{"filter":"datum.g==='P1'&&datum.v==='c2'"}],"mark":{"type":"rect","fill":"white","stroke":"black","strokeWidth":2},"encoding":{"x":{"field":"x0","type":"quantitative","scale":{"domain":[8.8,28.4],"range":[0,140],"nice":false,"zero":false},"axis":null},"x2":{"field":"x1"},"y":{"field":"f","type":"quantitative","scale":{"domain":[0,55],"nice":false},"axis":null},"y2":{"datum":0}}},
 {"mark":{"type":"rule"},"encoding":{"x":{"datum":8.8,"axis":null},"x2":{"datum":28.4},"y":{"datum":0,"axis":null}}},
 {"mark":{"type":"text","style":"paren","text":"("},"encoding":{"x":{"datum":6.0,"axis":null},"y":{"datum":35.9,"axis":null}}},
 {"mark":{"type":"text","style":"num"},"encoding":{"x":{"datum":13.28,"axis":null},"y":{"datum":39.75,"axis":null},"text":{"field":"m","type":"quantitative","format":".1f"}}},
 {"mark":{"type":"text","style":"num"},"encoding":{"x":{"datum":13.28,"axis":null},"y":{"datum":32.05,"axis":null},"text":{"field":"cv","type":"quantitative","format":".1f"}}}
]},
{"width":197,"height":170,"data":{"name":"stats"},"transform":[{"filter":"datum.g==='P1'&&datum.v==='c3'"}],"layer":[
 {"data":{"name":"bars"},"transform":[{"filter":"datum.g==='P1'&&datum.v==='c3'"}],"mark":{"type":"rect","fill":"white","stroke":"black","strokeWidth":2},"encoding":{"x":{"field":"x0","type":"quantitative","scale":{"domain":[0.5,27.5],"range":[0,177],"nice":false,"zero":false},"axis":null},"x2":{"field":"x1"},"y":{"field":"f","type":"quantitative","scale":{"domain":[0,55],"nice":false},"axis":null},"y2":{"datum":0}}},
 {"mark":{"type":"rule"},"encoding":{"x":{"datum":0.5,"axis":null},"x2":{"datum":27.5},"y":{"datum":0,"axis":null}}},
 {"mark":{"type":"text","style":"paren","text":"("},"encoding":{"x":{"datum":-1.03,"axis":null},"y":{"datum":38.15,"axis":null}}},
 {"mark":{"type":"text","style":"num"},"encoding":{"x":{"datum":6.91,"axis":null},"y":{"datum":42.35,"axis":null},"text":{"field":"m","type":"quantitative","format":".1f"}}},
 {"mark":{"type":"text","style":"num"},"encoding":{"x":{"datum":6.91,"axis":null},"y":{"datum":33.95,"axis":null},"text":{"field":"cv","type":"quantitative","format":".1f"}}}
]},
{"width":158,"height":170,"data":{"name":"stats"},"transform":[{"filter":"datum.g==='P1'&&datum.v==='c4'"}],"layer":[
 {"data":{"name":"bars"},"transform":[{"filter":"datum.g==='P1'&&datum.v==='c4'"}],"mark":{"type":"rect","fill":"white","stroke":"black","strokeWidth":2},"encoding":{"x":{"field":"x0","type":"quantitative","scale":{"domain":[-4.5,59.5],"range":[0,140],"nice":false,"zero":false},"axis":null},"x2":{"field":"x1"},"y":{"field":"f","type":"quantitative","scale":{"domain":[0,55],"nice":false},"axis":null},"y2":{"datum":0}}},
 {"mark":{"type":"rule"},"encoding":{"x":{"datum":-4.5,"axis":null},"x2":{"datum":59.5},"y":{"datum":0,"axis":null}}},
 {"mark":{"type":"text","style":"paren","text":"("},"encoding":{"x":{"datum":-15.93,"axis":null},"y":{"datum":38.15,"axis":null}}},
 {"mark":{"type":"text","style":"num"},"encoding":{"x":{"datum":7.84,"axis":null},"y":{"datum":42.35,"axis":null},"text":{"field":"m","type":"quantitative","format":".1f"}}},
 {"mark":{"type":"text","style":"num"},"encoding":{"x":{"datum":7.84,"axis":null},"y":{"datum":33.95,"axis":null},"text":{"field":"cv","type":"quantitative","format":".1f"}}}
]},
{"width":140,"height":170,"data":{"name":"stats"},"transform":[{"filter":"datum.g==='P1'&&datum.v==='c5'"}],"layer":[
 {"data":{"name":"bars"},"transform":[{"filter":"datum.g==='P1'&&datum.v==='c5'"}],"mark":{"type":"rect","fill":"white","stroke":"black","strokeWidth":2},"encoding":{"x":{"field":"x0","type":"quantitative","scale":{"domain":[3,104],"range":[0,132],"nice":false,"zero":false},"axis":null},"x2":{"field":"x1"},"y":{"field":"f","type":"quantitative","scale":{"domain":[0,55],"nice":false},"axis":null},"y2":{"datum":0}}},
 {"mark":{"type":"rule"},"encoding":{"x":{"datum":3,"axis":null},"x2":{"datum":104},"y":{"datum":0,"axis":null}}},
 {"mark":{"type":"text","style":"paren","text":"("},"encoding":{"x":{"datum":-23.02,"axis":null},"y":{"datum":38.15,"axis":null}}},
 {"mark":{"type":"text","style":"num"},"encoding":{"x":{"datum":16.77,"axis":null},"y":{"datum":42.35,"axis":null},"text":{"field":"m","type":"quantitative","format":".1f"}}},
 {"mark":{"type":"text","style":"num"},"encoding":{"x":{"datum":16.77,"axis":null},"y":{"datum":33.95,"axis":null},"text":{"field":"cv","type":"quantitative","format":".1f"}}}
]},

{"width":202,"height":170,"data":{"name":"stats"},"transform":[{"filter":"datum.g==='P2'&&datum.v==='c1'"}],"resolve":{"axis":{"x":"independent"}},"layer":[
 {"data":{"name":"bars"},"transform":[{"filter":"datum.g==='P2'&&datum.v==='c1'"}],"mark":{"type":"rect","fill":"white","stroke":"black","strokeWidth":2},"encoding":{"x":{"field":"x0","type":"quantitative","scale":{"domain":[42.5,102.5],"range":[0,174],"nice":false,"zero":false},"axis":{"orient":"bottom","offset":36,"values":[50,60,70,80,90,100],"tickSize":6,"title":"主\u2002稈\u2002長(cm)"}},"x2":{"field":"x1"},"y":{"field":"f","type":"quantitative","scale":{"domain":[0,55],"nice":false},"axis":null},"y2":{"datum":0}}},
 {"mark":{"type":"rule"},"encoding":{"x":{"datum":42.5,"axis":{"orient":"bottom","offset":36,"values":[45,50,55,60,65,70,75,80,85,90,95,100],"tickSize":-5,"domain":false,"labels":false,"title":null}},"x2":{"datum":102.5},"y":{"datum":0,"axis":null}}},
 {"mark":{"type":"text","style":"paren1","text":"("},"encoding":{"x":{"datum":33.19,"axis":null},"y":{"datum":38.7,"axis":null}}},
 {"mark":{"type":"text","style":"mono","align":"left","text":"M :"},"encoding":{"x":{"datum":39.4,"axis":null},"y":{"datum":43.1,"axis":null}}},
 {"mark":{"type":"text","style":"mono","align":"left","text":"CV:"},"encoding":{"x":{"datum":39.4,"axis":null},"y":{"datum":34.3,"axis":null}}},
 {"mark":{"type":"text","style":"mono","align":"right"},"encoding":{"x":{"datum":69.74,"axis":null},"y":{"datum":43.1,"axis":null},"text":{"field":"m","type":"quantitative","format":".1f"}}},
 {"mark":{"type":"text","style":"mono","align":"right"},"encoding":{"x":{"datum":69.74,"axis":null},"y":{"datum":34.3,"axis":null},"text":{"field":"cv","type":"quantitative","format":".1f"}}},
 {"mark":{"type":"text","style":"lat","text":"P₂."},"encoding":{"x":{"datum":2.84,"axis":null},"y":{"datum":17.3,"axis":null}}},
 {"mark":{"type":"text","style":"cjk","fontSize":17,"text":"陸"},"encoding":{"x":{"datum":15.6,"axis":null},"y":{"datum":17.3,"axis":null}}},
 {"mark":{"type":"text","style":"cjk","fontSize":17,"text":"稲"},"encoding":{"x":{"datum":55.26,"axis":null},"y":{"datum":17.3,"axis":null}}},
 {"mark":{"type":"text","style":"cjk","fontSize":17,"text":"北海早生1号"},"encoding":{"x":{"datum":21.47,"axis":null},"y":{"datum":10.2,"axis":null}}}
]},
{"width":203,"height":170,"data":{"name":"stats"},"transform":[{"filter":"datum.g==='P2'&&datum.v==='c2'"}],"resolve":{"axis":{"x":"independent"}},"layer":[
 {"data":{"name":"bars"},"transform":[{"filter":"datum.g==='P2'&&datum.v==='c2'"}],"mark":{"type":"rect","fill":"white","stroke":"black","strokeWidth":2},"encoding":{"x":{"field":"x0","type":"quantitative","scale":{"domain":[8.8,28.4],"range":[0,140],"nice":false,"zero":false},"axis":{"orient":"bottom","offset":36,"values":[12,16,20,24,28],"tickSize":6,"title":"主稈穂長(cm)"}},"x2":{"field":"x1"},"y":{"field":"f","type":"quantitative","scale":{"domain":[0,55],"nice":false},"axis":null},"y2":{"datum":0}}},
 {"mark":{"type":"rule"},"encoding":{"x":{"datum":8.8,"axis":{"orient":"bottom","offset":36,"values":[10,12,14,16,18,20,22,24,26,28],"tickSize":-5,"domain":false,"labels":false,"title":null}},"x2":{"datum":28.4},"y":{"datum":0,"axis":null}}},
 {"mark":{"type":"text","style":"paren","text":"("},"encoding":{"x":{"datum":6.0,"axis":null},"y":{"datum":38.65,"axis":null}}},
 {"mark":{"type":"text","style":"num"},"encoding":{"x":{"datum":13.28,"axis":null},"y":{"datum":43.05,"axis":null},"text":{"field":"m","type":"quantitative","format":".1f"}}},
 {"mark":{"type":"text","style":"num"},"encoding":{"x":{"datum":13.28,"axis":null},"y":{"datum":34.25,"axis":null},"text":{"field":"cv","type":"quantitative","format":".1f"}}}
]},
{"width":197,"height":170,"data":{"name":"stats"},"transform":[{"filter":"datum.g==='P2'&&datum.v==='c3'"}],"resolve":{"axis":{"x":"independent"}},"layer":[
 {"data":{"name":"bars"},"transform":[{"filter":"datum.g==='P2'&&datum.v==='c3'"}],"mark":{"type":"rect","fill":"white","stroke":"black","strokeWidth":2},"encoding":{"x":{"field":"x0","type":"quantitative","scale":{"domain":[0.5,27.5],"range":[0,177],"nice":false,"zero":false},"axis":{"orient":"bottom","offset":36,"values":[4,8,12,16,20,24],"tickSize":6,"title":"1\u2002株穂数(本)"}},"x2":{"field":"x1"},"y":{"field":"f","type":"quantitative","scale":{"domain":[0,55],"nice":false},"axis":null},"y2":{"datum":0}}},
 {"mark":{"type":"rule"},"encoding":{"x":{"datum":0.5,"axis":{"orient":"bottom","offset":36,"values":[2,4,6,8,10,12,14,16,18,20,22,24,26],"tickSize":-5,"domain":false,"labels":false,"title":null}},"x2":{"datum":27.5},"y":{"datum":0,"axis":null}}},
 {"mark":{"type":"text","style":"paren","text":"("},"encoding":{"x":{"datum":-3.62,"axis":null},"y":{"datum":38.65,"axis":null}}},
 {"mark":{"type":"text","style":"num"},"encoding":{"x":{"datum":4.31,"axis":null},"y":{"datum":43.05,"axis":null},"text":{"field":"m","type":"quantitative","format":".1f"}}},
 {"mark":{"type":"text","style":"num"},"encoding":{"x":{"datum":4.31,"axis":null},"y":{"datum":34.25,"axis":null},"text":{"field":"cv","type":"quantitative","format":".1f"}}}
]},
{"width":158,"height":170,"data":{"name":"stats"},"transform":[{"filter":"datum.g==='P2'&&datum.v==='c4'"}],"resolve":{"axis":{"x":"independent"}},"layer":[
 {"data":{"name":"bars"},"transform":[{"filter":"datum.g==='P2'&&datum.v==='c4'"}],"mark":{"type":"rect","fill":"white","stroke":"black","strokeWidth":2},"encoding":{"x":{"field":"x0","type":"quantitative","scale":{"domain":[-4.5,59.5],"range":[0,140],"nice":false,"zero":false},"axis":{"orient":"bottom","offset":36,"values":[6,18,30,42,54],"tickSize":6,"title":"1\u2002株穂重(\u2002g\u2002)"}},"x2":{"field":"x1"},"y":{"field":"f","type":"quantitative","scale":{"domain":[0,55],"nice":false},"axis":null},"y2":{"datum":0}}},
 {"mark":{"type":"rule"},"encoding":{"x":{"datum":-4.5,"axis":{"orient":"bottom","offset":36,"values":[0,6,12,18,24,30,36,42,48,54],"tickSize":-5,"domain":false,"labels":false,"title":null}},"x2":{"datum":59.5},"y":{"datum":0,"axis":null}}},
 {"mark":{"type":"text","style":"paren","text":"("},"encoding":{"x":{"datum":-15.93,"axis":null},"y":{"datum":38.65,"axis":null}}},
 {"mark":{"type":"text","style":"num"},"encoding":{"x":{"datum":7.84,"axis":null},"y":{"datum":43.05,"axis":null},"text":{"field":"m","type":"quantitative","format":".1f"}}},
 {"mark":{"type":"text","style":"num"},"encoding":{"x":{"datum":7.84,"axis":null},"y":{"datum":34.25,"axis":null},"text":{"field":"cv","type":"quantitative","format":".1f"}}}
]},
{"width":140,"height":170,"data":{"name":"stats"},"transform":[{"filter":"datum.g==='P2'&&datum.v==='c5'"}],"resolve":{"axis":{"x":"independent"}},"layer":[
 {"data":{"name":"bars"},"transform":[{"filter":"datum.g==='P2'&&datum.v==='c5'"}],"mark":{"type":"rect","fill":"white","stroke":"black","strokeWidth":2},"encoding":{"x":{"field":"x0","type":"quantitative","scale":{"domain":[3,104],"range":[0,132],"nice":false,"zero":false},"axis":{"orient":"bottom","offset":36,"values":[20,40,60,80,100],"tickSize":6,"title":"1\u2002株全重(\u2002g\u2002)"}},"x2":{"field":"x1"},"y":{"field":"f","type":"quantitative","scale":{"domain":[0,55],"nice":false},"axis":null},"y2":{"datum":0}}},
 {"mark":{"type":"rule"},"encoding":{"x":{"datum":3,"axis":{"orient":"bottom","offset":36,"values":[10,20,30,40,50,60,70,80,90,100],"tickSize":-5,"domain":false,"labels":false,"title":null}},"x2":{"datum":104},"y":{"datum":0,"axis":null}}},
 {"mark":{"type":"text","style":"paren","text":"("},"encoding":{"x":{"datum":-23.02,"axis":null},"y":{"datum":38.65,"axis":null}}},
 {"mark":{"type":"text","style":"num"},"encoding":{"x":{"datum":16.77,"axis":null},"y":{"datum":43.05,"axis":null},"text":{"field":"m","type":"quantitative","format":".1f"}}},
 {"mark":{"type":"text","style":"num"},"encoding":{"x":{"datum":16.77,"axis":null},"y":{"datum":34.25,"axis":null},"text":{"field":"cv","type":"quantitative","format":".1f"}}}
]}
]
}
